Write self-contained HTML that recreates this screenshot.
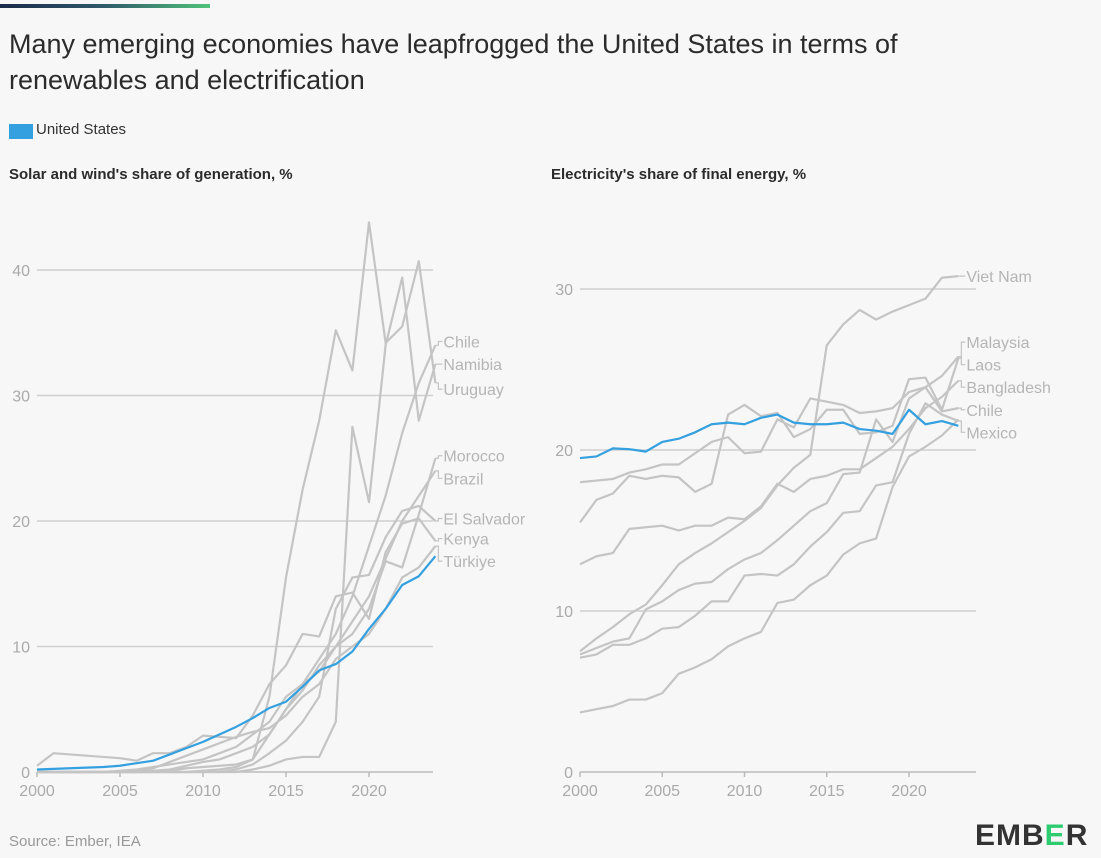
<!DOCTYPE html>
<html><head><meta charset="utf-8">
<style>
html,body{margin:0;padding:0;background:#f7f7f7;}
body{width:1101px;height:858px;position:relative;overflow:hidden;font-family:"Liberation Sans",sans-serif;}
.abs{position:absolute;}
</style></head>
<body>
<div class="abs" style="left:0;top:4px;width:210px;height:4px;background:linear-gradient(90deg,#1b2a4a,#2f5a6a 50%,#4fc27a);"></div>
<div class="abs" style="left:9px;top:26px;width:1080px;font-size:27px;line-height:36px;color:#2b2b2b;">Many emerging economies have leapfrogged the United States in terms of<br>renewables and electrification</div>
<div class="abs" style="left:9px;top:124px;width:24px;height:15px;background:#34a0e0;"></div>
<div class="abs" style="left:36px;top:121px;font-size:15px;color:#333;">United States</div>
<div class="abs" style="left:9px;top:166px;font-size:15px;font-weight:bold;color:#2b2b2b;">Solar and wind's share of generation, %</div>
<div class="abs" style="left:551px;top:166px;font-size:15px;font-weight:bold;color:#2b2b2b;">Electricity's share of final energy, %</div>
<div class="abs" style="left:9px;top:833px;font-size:15px;color:#999;">Source: Ember, IEA</div>
<div class="abs" style="left:975px;top:819px;font-size:30px;font-weight:bold;color:#333;letter-spacing:1px;">EMB<span style="color:#2ecc71">E</span>R</div>
<svg class="abs" style="left:0;top:0" width="1101" height="858" id="svg"></svg>
<script>
const years1 = [2000,2001,2002,2003,2004,2005,2006,2007,2008,2009,2010,2011,2012,2013,2014,2015,2016,2017,2018,2019,2020,2021,2022,2023,2024];
const leftNames = ["Chile","Namibia","Uruguay","Morocco","Brazil","El Salvador","Kenya","Türkiye"];
const chileL = [0,0,0,0,0,0,0,0,0,0,0.1,0.2,0.4,1,3,5,7,9,11,14,18,22,27,31,34];
const namibiaL = [0,0,0,0,0,0,0,0,0,0,0,0,0,0.2,0.5,1,1.2,1.2,4,27.5,21.5,34,39.4,28,32.5];
const uruguayL = [0,0,0,0,0,0,0,0,0.1,0.3,0.4,0.5,0.6,1,6,15.5,22.5,28,35.2,32,43.8,34.2,35.5,40.7,31];
const moroccoL = [0,0,0,0,0,0.1,0.2,0.4,0.6,0.8,1,1.5,2,3,4,6,7,8,10,11,13,16.8,16.3,20.5,25];
const brazilL = [0,0,0,0,0,0,0,0.1,0.2,0.5,0.8,1,1.5,2,3,5,6.5,8.5,10,12,14,17,20,22,24];
const elsalvL = [0,0,0,0,0,0,0,0,0,0,0,0,0.2,0.6,1.5,2.5,4,6,13,15.5,15.7,18.7,20.8,21.2,20];
const kenyaL = [0.5,1.5,1.4,1.3,1.2,1.1,0.9,1.5,1.5,2,2.9,2.8,2.7,4.5,7,8.5,11,10.8,14,14.3,12.2,17.5,19.8,20.2,18.4];
const turkiyeL = [0,0,0,0,0,0,0.1,0.3,0.8,1.3,1.8,2.3,2.8,3.2,3.5,4.5,6,7,9,10,11,13,15.5,16.3,18];
const usL = [0.2,0.25,0.3,0.35,0.4,0.5,0.7,0.9,1.4,1.9,2.4,3.0,3.6,4.3,5.1,5.6,6.8,8.1,8.6,9.6,11.4,13.0,14.9,15.6,17.2];
const leftTicks = [0,10,20,30,40];
const leftLabelY = [34.3,32.5,30.5,25.2,23.4,20.2,18.6,16.8];

const years2 = [2000,2001,2002,2003,2004,2005,2006,2007,2008,2009,2010,2011,2012,2013,2014,2015,2016,2017,2018,2019,2020,2021,2022,2023];
const rightNames = ["Viet Nam","Malaysia","Laos","Bangladesh","Chile","Mexico"];
const vietnamR = [7.5,8.3,9,9.8,10.4,11.6,12.9,13.6,14.2,14.9,15.6,16.4,17.8,18.9,19.7,26.5,27.8,28.7,28.1,28.6,29,29.4,30.7,30.8];
const malaysiaR = [15.5,16.9,17.3,18.4,18.2,18.4,18.3,17.4,17.9,22.2,22.8,22.1,22.3,20.8,21.3,22.5,22.5,21,21.1,21.5,24.4,24.5,22.5,25.7];
const laosR = [18,18.1,18.2,18.6,18.8,19.1,19.1,19.8,20.5,20.8,19.8,19.9,21.9,21.4,23.2,23,22.8,22.3,22.4,22.6,23.6,23.9,24.6,25.8];
const bangladeshR = [12.9,13.4,13.6,15.1,15.2,15.3,15,15.3,15.3,15.8,15.7,16.5,17.9,17.4,18.2,18.4,18.8,18.8,19.5,20.2,21.3,22.6,23.3,24.3];
const chileR = [7.3,7.7,8.1,8.3,10.1,10.6,11.3,11.7,11.8,12.6,13.2,13.6,14.4,15.3,16.2,16.7,18.5,18.6,21.9,20.5,23.2,23.9,22.4,22.6];
const mexicoR = [7.1,7.3,7.9,7.9,8.3,8.9,9,9.7,10.6,10.6,12.2,12.3,12.2,12.9,14,14.9,16.1,16.2,17.8,18,21,22.9,22.2,21.8];
const otherR = [3.7,3.9,4.1,4.5,4.5,4.9,6.1,6.5,7,7.8,8.3,8.7,10.5,10.7,11.6,12.2,13.5,14.2,14.5,17.7,19.6,20.2,20.9,21.9];
const usR = [19.5,19.6,20.1,20.05,19.9,20.5,20.7,21.1,21.6,21.7,21.6,22,22.2,21.7,21.6,21.6,21.7,21.3,21.2,21.0,22.5,21.6,21.8,21.5];
const rightTicks = [0,10,20,30];
const rightLabelY = [30.8,26.7,25.3,23.9,22.5,21.1];
const xTicks = [2000,2005,2010,2015,2020];

const NS="http://www.w3.org/2000/svg";
const svg=document.getElementById('svg');
function mk(tag,attrs,parent){const e=document.createElementNS(NS,tag);for(const k in attrs)e.setAttribute(k,attrs[k]);(parent||svg).appendChild(e);return e;}

function panel(cfg){
  const g=mk('g',{});
  
  
  const x=v=>cfg.x0+(v-2000)*(cfg.x1-cfg.x0)/20;
  const y=v=>cfg.y0-v*(cfg.y0-cfg.yT)/cfg.tMax;
  cfg.ticks.forEach(t=>{
    if(t>0){const l=mk('line',{x1:cfg.x0,x2:cfg.gx,y1:y(t),y2:y(t),stroke:'#cfcfcf','stroke-width':1.5},g);
      }
    const tx=mk('text',{x:cfg.x0-7,y:y(t)+6,'text-anchor':'end','font-size':16,fill:'#aaa','font-family':'Liberation Sans, sans-serif'},g);
    tx.textContent=t;
    
  });
  const ax=mk('line',{x1:cfg.x0,x2:cfg.gx,y1:cfg.y0,y2:cfg.y0,stroke:'#bbb','stroke-width':1.5},g);
  
  xTicks.forEach(t=>{
    const tk=mk('line',{x1:x(t),x2:x(t),y1:cfg.y0,y2:cfg.y0+5,stroke:'#bbb','stroke-width':1.5},g);
    
    const tx=mk('text',{x:x(t),y:cfg.y0+24,'text-anchor':'middle','font-size':16,fill:'#aaa','font-family':'Liberation Sans, sans-serif'},g);
    tx.textContent=t;
    
  });
  const line=(vals,color,nm)=>{
    const p=mk('polyline',{points:vals.map((v,i)=>x(cfg.years[i])+','+y(v)).join(' '),fill:'none',stroke:color,'stroke-width':2.2,'stroke-linejoin':'round'},g);
    
  };
  cfg.grey.forEach((s,i)=>line(s,'#c4c4c4','line-'+(cfg.names[i]||'other').toLowerCase().replace(/\s+/g,'-')));
  line(cfg.us,'#34a0e0','line-united-states');
  cfg.names.forEach((n,i)=>{
    const s=cfg.grey[i];const lastX=x(cfg.years[s.length-1]);const ly=y(cfg.labelY[i]);
    const c=mk('polyline',{points:lastX+','+y(s[s.length-1])+' '+(lastX+3)+','+y(s[s.length-1])+' '+(lastX+3)+','+ly+' '+(lastX+7)+','+ly,fill:'none',stroke:'#c4c4c4','stroke-width':1.2},g);
    
    const t=mk('text',{x:lastX+8,y:ly+6,'font-size':16,fill:'#b5b5b5','font-family':'Liberation Sans, sans-serif'},g);
    t.textContent=n;
    
  });
}
panel({name:'left-chart',x0:37,x1:369,gx:433,y0:772,yT:270,tMax:40,ticks:leftTicks,years:years1,
  grey:[chileL,namibiaL,uruguayL,moroccoL,brazilL,elsalvL,kenyaL,turkiyeL],names:leftNames,labelY:leftLabelY,us:usL});
panel({name:'right-chart',x0:580,x1:909,gx:976,y0:772,yT:289,tMax:30,ticks:rightTicks,years:years2,
  grey:[vietnamR,malaysiaR,laosR,bangladeshR,chileR,mexicoR,otherR],names:rightNames,labelY:rightLabelY,us:usR});
</script>
</body></html>
